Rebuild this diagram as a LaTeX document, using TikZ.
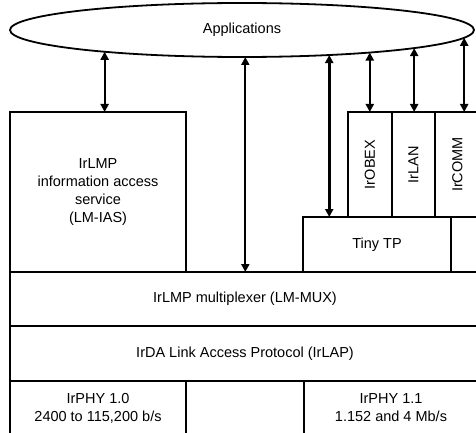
\documentclass[tikz,border=0pt]{standalone}
\usepackage{fontspec}
\setmainfont{Liberation Sans}
\usetikzlibrary{arrows.meta,shapes.geometric}

\begin{document}
\begin{tikzpicture}[x=1pt,y=-1pt,>={Triangle[width=8pt,length=8pt]},
  every node/.style={font=\fontsize{14.5}{18}\selectfont,inner sep=0pt,outer sep=0pt},
  layer/.style={draw,line width=1.2pt,anchor=north west,align=center},
  link/.style={<->,line width=2.2pt},
  divider/.style={line width=2pt}]
  \useasboundingbox (0,0) rectangle (476,433);
  \clip (0,0) rectangle (476,433);
  % applications on top
  \node[ellipse,draw,line width=1.8pt,minimum width=464pt,minimum height=54pt] (apps) at (242,30) {Applications};
  % left side and the protocol columns
  \node[layer,minimum width=176pt,minimum height=160pt] (ias) at (10,112) {IrLMP\\information access\\service\\(LM-IAS)};
  \node[layer,minimum width=44pt,minimum height=105pt] (obex) at (348,112) {\rotatebox{90}{IrOBEX}};
  \node[layer,minimum width=43pt,minimum height=105pt] (lan) at (392,112) {\rotatebox{90}{IrLAN}};
  \node[layer,minimum width=45pt,minimum height=105pt] (comm) at (435,112) {\rotatebox{90}{IrCOMM}};
  \node[layer,minimum width=148pt,minimum height=55pt] (tinytp) at (303,217) {Tiny TP};
  % lower layers
  \node[layer,minimum width=470pt,minimum height=54pt] (mux) at (10,272) {IrLMP multiplexer (LM-MUX)};
  \node[layer,minimum width=470pt,minimum height=55pt] (lap) at (10,326) {IrDA Link Access Protocol (IrLAP)};
  \node[layer,minimum width=176pt,minimum height=54pt] (phyA) at (10,381) {IrPHY 1.0\\2400 to 115,200 b/s};
  \node[layer,minimum width=118pt,minimum height=54pt] (phyM) at (186,381) {};
  \node[layer,minimum width=174pt,minimum height=54pt] (phyB) at (304,381) {IrPHY 1.1\\1.152 and 4 Mb/s};
  \draw[divider] (obex.north east) -- (obex.south east);
  \draw[divider] (lan.north east) -- (lan.south east);
  \draw[divider] (lap.north west) -- (lap.north east);
  % service access arrows
  \draw[link] (apps.-171.7) -- (apps.-171.7 |- ias.north);
  \draw[link] (apps.-83.6) -- (apps.-83.6 |- mux.north);
  \draw[link,line width=3pt] (apps.-16.9) -- (apps.-16.9 |- tinytp.north);
  \draw[link] (apps.-10.1) -- (apps.-10.1 |- obex.north);
  \draw[link] (apps.-6.1) -- (apps.-6.1 |- lan.north);
  \draw[link] (apps.-2.7) -- (apps.-2.7 |- comm.north);
\end{tikzpicture}
\end{document}
